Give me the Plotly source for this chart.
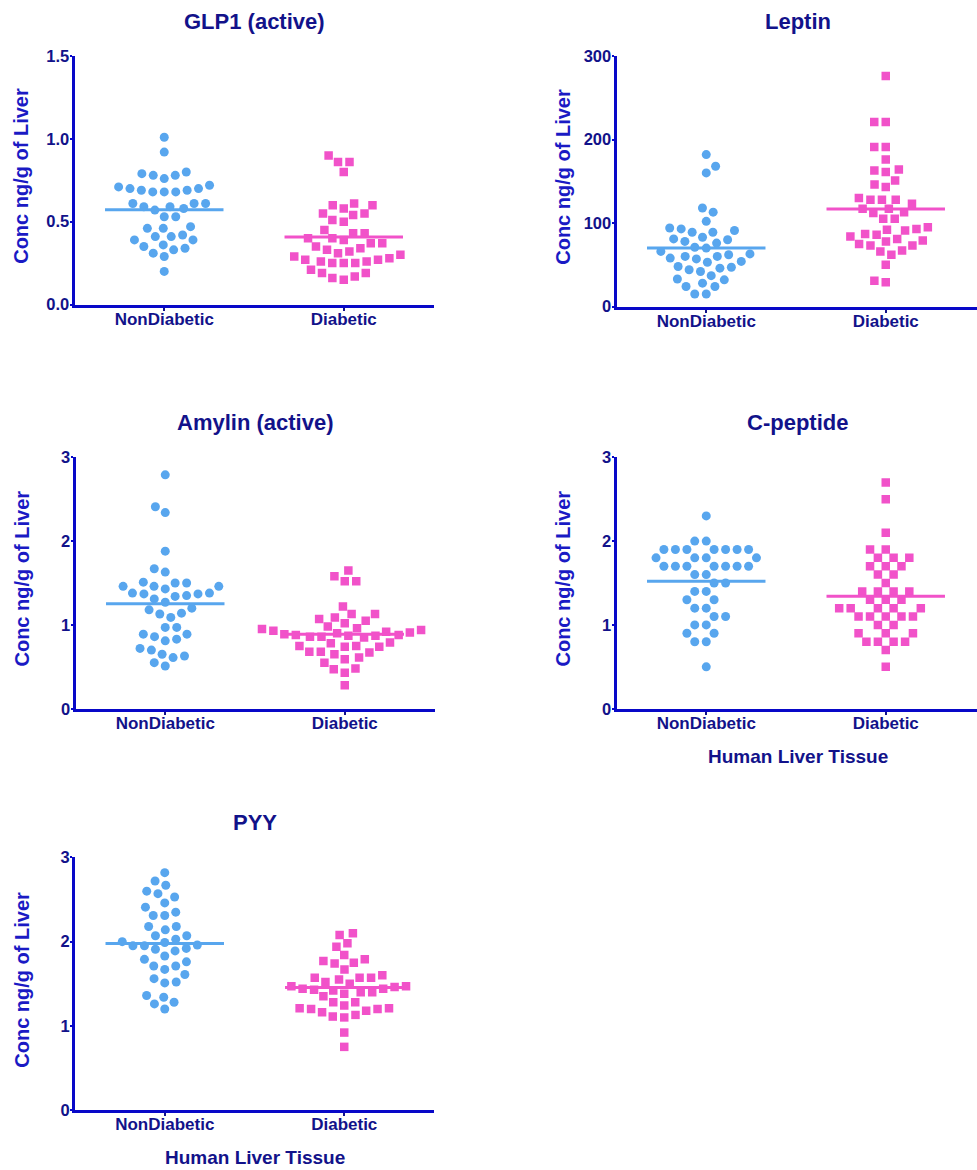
import math
import plotly.graph_objects as go

# ---- data: hormone concentrations (ng/g of liver) per donor group ----
groups = ["NonDiabetic", "Diabetic"]

glp1_nd = [1.01, 0.92, 0.80, 0.79, 0.78, 0.78, 0.76, 0.72, 0.71, 0.70, 0.69, 0.68, 0.68, 0.68,
           0.69, 0.70, 0.61, 0.61, 0.59, 0.57, 0.58, 0.59, 0.61, 0.53, 0.53, 0.47, 0.46, 0.46,
           0.42, 0.41, 0.39, 0.39, 0.41, 0.36, 0.35, 0.34, 0.33, 0.31, 0.29, 0.20]
glp1_d = [0.90, 0.86, 0.86, 0.80, 0.61, 0.60, 0.60, 0.58, 0.55, 0.55, 0.54, 0.51, 0.50,
          0.45, 0.43, 0.43, 0.40, 0.40, 0.39, 0.37, 0.37,
          0.35, 0.34, 0.33, 0.32, 0.31, 0.30, 0.29, 0.28, 0.27, 0.27, 0.26, 0.26, 0.25, 0.25, 0.25,
          0.21, 0.19, 0.19, 0.17, 0.16, 0.15]

leptin_nd = [182, 168, 160, 118, 113, 102, 94, 91, 89, 89, 93, 83, 80, 76, 78, 81, 71, 70,
             66, 62, 60, 57, 53, 54, 58, 60, 63, 48, 46, 42, 44, 47, 37, 33, 32, 28, 24, 24, 15, 15]
leptin_d = [276, 221, 221, 191, 191, 176, 164, 161, 163, 151, 146, 143, 130, 128, 128, 128,
            123, 117, 117, 113, 112, 105, 105, 95, 93, 91, 92, 87, 86, 84, 79, 81, 78, 75, 73, 73,
            66, 62, 67, 50, 29, 31]

amylin_nd = [2.79, 2.41, 2.34, 1.88, 1.67, 1.63, 1.50, 1.46, 1.46, 1.46, 1.50, 1.51, 1.43, 1.38,
             1.37, 1.34, 1.35, 1.37, 1.38, 1.31, 1.27, 1.20, 1.18, 1.14, 1.13, 1.09, 0.97, 0.97,
             0.89, 0.89, 0.86, 0.83, 0.81, 0.72, 0.70, 0.65, 0.63, 0.61, 0.55, 0.51]
amylin_d = [1.65, 1.58, 1.52, 1.52, 1.22, 1.13, 1.09, 1.05, 0.98, 1.02, 1.07, 1.13,
            0.96, 0.95, 0.94, 0.93, 0.92, 0.91, 0.90, 0.89, 0.88, 0.88, 0.87, 0.87, 0.86, 0.86, 0.85,
            0.79, 0.78, 0.75, 0.75, 0.74, 0.74, 0.68, 0.68, 0.67, 0.65,
            0.61, 0.59, 0.55, 0.48, 0.47, 0.43, 0.28]

cpep_nd = [2.3, 2.0, 2.0, 1.9, 1.9, 1.9, 1.9, 1.9, 1.9, 1.9, 1.8, 1.8, 1.8, 1.8,
           1.7, 1.7, 1.7, 1.7, 1.7, 1.7, 1.7, 1.6, 1.6, 1.5, 1.5, 1.4, 1.4, 1.3, 1.3,
           1.2, 1.2, 1.1, 1.1, 1.0, 1.0, 0.9, 0.9, 0.8, 0.8, 0.5]
cpep_d = [2.7, 2.5, 2.1, 1.9, 1.9, 1.8, 1.8, 1.8, 1.7, 1.7, 1.7, 1.6, 1.6, 1.5,
          1.4, 1.4, 1.4, 1.4, 1.3, 1.3, 1.3, 1.2, 1.2, 1.2, 1.2, 1.2, 1.1, 1.1, 1.1, 1.1, 1.1,
          1.0, 1.0, 0.9, 0.9, 0.9, 0.8, 0.8, 0.8, 0.8, 0.7, 0.5]

pyy_nd = [2.82, 2.72, 2.67, 2.57, 2.53, 2.60, 2.46, 2.41, 2.35, 2.31, 2.31, 2.18, 2.18, 2.14,
          2.07, 2.07, 2.00, 2.03, 1.96, 1.95, 1.99, 1.92, 1.91, 1.95, 1.89, 1.83, 1.79, 1.76,
          1.71, 1.71, 1.67, 1.61, 1.56, 1.52, 1.51, 1.36, 1.34, 1.28, 1.26, 1.20]
pyy_d = [2.10, 2.08, 1.98, 1.94, 1.84, 1.79, 1.77, 1.75, 1.74, 1.67, 1.60, 1.57, 1.55,
         1.50, 1.47, 1.44, 1.44, 1.46, 1.47, 1.52, 1.57, 1.57, 1.42, 1.40, 1.35, 1.38, 1.40, 1.43,
         1.28, 1.28, 1.24, 1.21, 1.20, 1.16, 1.11, 1.10, 1.13, 1.18, 1.20, 1.21, 0.92, 0.75]

titles = ["GLP1 (active)", "Leptin", "Amylin (active)", "C-peptide", "PYY"]
y_label = "Conc ng/g of Liver"
x_label = "Human Liver Tissue"
y_ticks = [[0.0, 0.5, 1.0, 1.5], [0, 100, 200, 300], [0, 1, 2, 3], [0, 1, 2, 3], [0, 1, 2, 3]]

panels = [
    (glp1_nd, glp1_d),
    (leptin_nd, leptin_d),
    (amylin_nd, amylin_d),
    (cpep_nd, cpep_d),
    (pyy_nd, pyy_d),
]

# ---- page geometry (pixels) ----
W, H = 977, 1170
# (left, right, bottom, top) of each plot area in pixels
boxes = [
    (74.5, 433.5, 304, 55),
    (616.5, 977, 306, 55),
    (75.5, 434.5, 709, 457),
    (616.5, 977, 709, 457),
    (75, 434, 1111, 858),
]
x_unit_px = 179.5  # pixels between the two group columns

NAVY = "#12128a"
AXIS_BLUE = "#0808c8"
YTITLE_BLUE = "#1a1ac4"
BLUE = "#58a6ee"
PINK = "#f152c9"
FONT = "Liberation Sans, Arial, sans-serif"


def px_x(p):
    return p / W


def px_y(p):
    # the page is drawn with an 8 px top inset and a slight vertical squeeze
    p = p * (H + 16) / H - 8
    return 1 - p / H


def swarm(values, px_per_unit, d=11.5):
    """Greedy beeswarm: offsets (in pixels) so markers do not overlap."""
    n = len(values)
    order = sorted(range(n), key=lambda i: values[i])
    placed = []
    offs = [0.0] * n
    nleft = nright = 0
    for i in order:
        y = values[i] * px_per_unit
        cands = [0.0]
        for (qx, qy) in placed:
            dy = abs(qy - y)
            if dy < d:
                dx = math.sqrt(d * d - dy * dy)
                cands += [qx + dx, qx - dx]
        prefer_left = nleft <= nright

        def key(c):
            side = 0 if (c < 0) == prefer_left else 1
            return (round(abs(c), 4), side)

        best = 0.0
        for c in sorted(cands, key=key):
            if all((c - qx) ** 2 + (y - qy) ** 2 >= d * d - 1e-6 for qx, qy in placed):
                best = c
                break
        if best < -1e-6:
            nleft += 1
        elif best > 1e-6:
            nright += 1
        placed.append((best, y))
        offs[i] = best
    return offs


fig = go.Figure()
annotations = []
layout_axes = {}

for k, ((nd, dm), box, ticks, title) in enumerate(zip(panels, boxes, y_ticks, titles)):
    left, right, bottom, top = box
    ymax = ticks[-1]
    y_px_per_unit = (bottom - top) / ymax
    xr_hi = -0.5 + (right - left) / x_unit_px
    suffix = "" if k == 0 else str(k + 1)
    xa, ya = "x" + suffix, "y" + suffix

    for gi, (vals, color, symbol) in enumerate([(nd, BLUE, "circle"), (dm, PINK, "square")]):
        offs = swarm(vals, y_px_per_unit)
        xs = [gi + o / x_unit_px for o in offs]
        fig.add_trace(go.Scatter(
            x=xs, y=vals, mode="markers", xaxis=xa, yaxis=ya, showlegend=False,
            marker=dict(symbol=symbol, size=9 if symbol == "circle" else 8.5, color=color,
                        line=dict(width=0)),
            hoverinfo="y",
        ))
    for gi, (vals, color) in enumerate([(nd, BLUE), (dm, PINK)]):
        mean = sum(vals) / len(vals)
        fig.add_trace(go.Scatter(
            x=[gi - 0.33, gi + 0.33], y=[mean, mean], mode="lines", xaxis=xa, yaxis=ya,
            showlegend=False, line=dict(color=color, width=3), hoverinfo="skip",
        ))

    fmt = ".1f" if k == 0 else "d"
    layout_axes["xaxis" + suffix] = dict(
        domain=[px_x(left), min(1.0, px_x(right))], range=[-0.5, xr_hi], anchor=ya,
        tickmode="array", tickvals=[0, 1], ticktext=groups,
        showline=True, linecolor=AXIS_BLUE, linewidth=3, showgrid=False, zeroline=False,
        ticks="outside", ticklen=3, tickwidth=2, tickcolor=NAVY, ticklabelstandoff=-6,
        tickfont=dict(family=FONT, size=17, color=NAVY, weight="bold"),
        fixedrange=True,
    )
    layout_axes["yaxis" + suffix] = dict(
        domain=[px_y(bottom), px_y(top)], range=[0, ymax], anchor=xa,
        tickmode="array", tickvals=ticks, ticktext=[format(t, fmt) for t in ticks],
        showline=True, linecolor=AXIS_BLUE, linewidth=3, showgrid=False, zeroline=False,
        ticks="outside", ticklen=2, tickwidth=2, tickcolor=AXIS_BLUE, ticklabelstandoff=-3,
        tickfont=dict(family=FONT, size=16.5, color=NAVY, weight="bold"),
        fixedrange=True,
    )

    cx = (left + 978.5) / 2 if k % 2 == 1 else (left + right) / 2
    annotations.append(dict(
        text=title, x=px_x(cx), y=px_y(top - 35), xref="paper", yref="paper",
        xanchor="center", yanchor="middle", showarrow=False,
        font=dict(family=FONT, size=22, color=NAVY, weight="bold"),
    ))
    annotations.append(dict(
        text=y_label, x=px_x(left - 53), y=px_y((top + bottom) / 2 - 4), xref="paper", yref="paper",
        xanchor="center", yanchor="middle", textangle=-90, showarrow=False,
        font=dict(family=FONT, size=20, color=YTITLE_BLUE, weight="bold"),
    ))
    if k >= 3:
        annotations.append(dict(
            text=x_label, x=px_x(cx), y=px_y(bottom + 48), xref="paper", yref="paper",
            xanchor="center", yanchor="middle", showarrow=False,
            font=dict(family=FONT, size=19, color=NAVY, weight="bold"),
        ))

fig.update_layout(
    width=W, height=H, margin=dict(l=0, r=0, t=0, b=0),
    paper_bgcolor="white", plot_bgcolor="white",
    annotations=annotations, **layout_axes,
)

fig.write_html("out.html", config={"displayModeBar": False})
